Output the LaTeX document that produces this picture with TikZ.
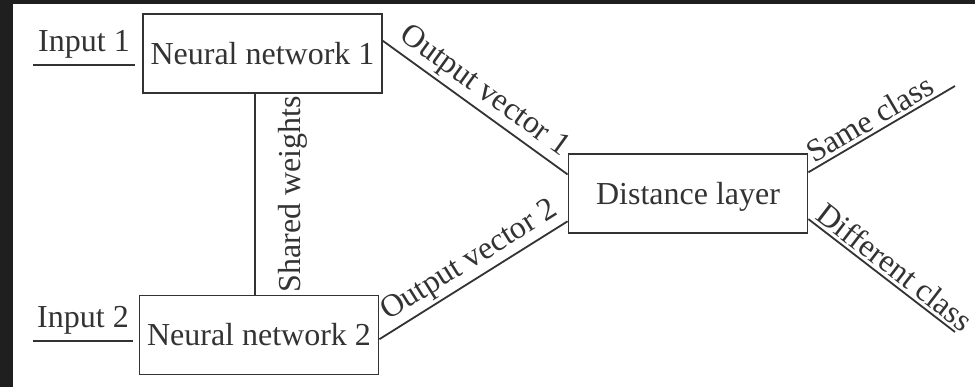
\documentclass[tikz,border=0pt]{standalone}
\usepackage{fontspec}
\setmainfont{Liberation Serif}
\begin{document}
\begin{tikzpicture}[x=0.5pt, y=-0.5pt, color=black!80, font=\fontsize{16}{19}\selectfont,
            box/.style = {draw, line width=0.9pt, minimum width=119.5pt, minimum height=39.5pt,
                          inner sep=0pt, text height=10.6pt, text depth=0pt},
            link/.style = {line width=0.9pt},
            lbl/.style = {inner sep=1.5pt}]
            \useasboundingbox (0,0) rectangle (975,387);
            % Frame
            \fill[black!88] (0,0) rectangle (975,387);
            \fill[white] (13,4) rectangle (975,387);

            % Boxes
            \node[box] (nn1) at (262.5,53.5) {Neural network 1};
            \node[box] (nn2) at (259,335)    {Neural network 2};
            \node[box] (dl)  at (688,193.5)  {Distance layer};

            % Inputs
            \coordinate (in1a) at (33,65);
            \coordinate (in1b) at (135,65);
            \coordinate (in2a) at (33,341);
            \coordinate (in2b) at (133,341);

            \draw[link] (in1a) -- (in1b) node[midway, above, inner sep=3pt] {Input 1};
            \draw[link] (in2a) -- (in2b) node[midway, above, inner sep=3pt] {Input 2};

            % Shared weights
            \coordinate (sw) at (255,0);
            \draw[link] (nn2.north -| sw) -- (nn1.south -| sw)
                node[midway, sloped, below, inner sep=11pt] {Shared weights};

            % Outputs
            \draw[link] (nn1.6) -- (dl.171)
                node[lbl, pos=0.49, sloped, above] {Output vector 1};
            \draw[link] (nn2.-2) -- (dl.193.5)
                node[lbl, pos=0.53, sloped, above] {Output vector 2};

            % Classes
            \coordinate (same) at (955,86);
            \coordinate (diff) at (955,332);

            \draw[link] (dl.10) -- (same)
                node[lbl, pos=0.47, sloped, above] {Same class};
            \draw[link] (dl.-12.6) -- (diff)
                node[lbl, pos=0.53, sloped, above] {Different class};
        \end{tikzpicture}
\end{document}
